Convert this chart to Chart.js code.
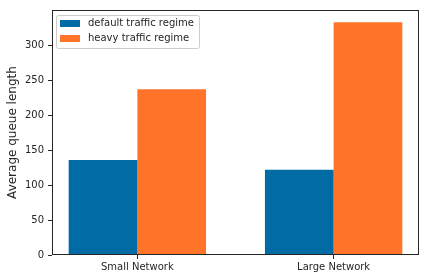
<!DOCTYPE html>
<html>
<head>
<meta charset="utf-8">
<script src="https://cdn.jsdelivr.net/npm/chart.js@4/dist/chart.umd.min.js"></script>
<style>
    html, body { margin: 0; padding: 0; background: #fff; }
    #wrap { width: 424px; height: 276px; }
</style>
</head>
<body>
<div id="wrap"><canvas id="queueChart" width="424" height="276"></canvas></div>
<script>
// Data
const categories = ['Small Network', 'Large Network'];
const seriesNames = ['default traffic regime', 'heavy traffic regime'];
const defaultValues = [136, 122];
const heavyValues = [237, 333];
const yTicks = [0, 50, 100, 150, 200, 250, 300];

const colors = ['#006BA4', '#FF7428'];
const FONT = 'DejaVu Sans';

// draws the full box around the plot (matplotlib style spines)
const frame = {
    id: 'frame',
    afterDatasetsDraw(chart) {
        const a = chart.chartArea, ctx = chart.ctx;
        ctx.save();
        ctx.strokeStyle = '#262626';
        ctx.lineWidth = 1;
        ctx.strokeRect(Math.round(a.left) + 0.5, Math.round(a.top) + 0.5,
            Math.round(a.right - a.left) - 1, Math.round(a.bottom - a.top) - 1);
        ctx.restore();
    }
};

// legend inside the axes, upper left
const innerLegend = {
    id: 'innerLegend',
    afterDraw(chart) {
        const a = chart.chartArea, ctx = chart.ctx;
        const x = a.left + 4.5, y = a.top + 5.5, w = 143, h = 33;
        ctx.save();
        ctx.fillStyle = 'rgba(255,255,255,0.8)';
        ctx.strokeStyle = '#cccccc';
        ctx.lineWidth = 1;
        ctx.beginPath();
        ctx.roundRect(x, y, w, h, 2);
        ctx.fill();
        ctx.stroke();
        ctx.font = '10px "' + FONT + '"';
        ctx.textBaseline = 'middle';
        chart.data.datasets.forEach((ds, i) => {
            const cy = y + 8 + i * 15;
            ctx.fillStyle = ds.backgroundColor;
            ctx.fillRect(x + 3.5, cy - 3.5, 20, 7);
            ctx.fillStyle = '#262626';
            ctx.fillText(ds.label, x + 31.5, cy);
        });
        ctx.restore();
    }
};

const ctx = document.getElementById('queueChart').getContext('2d');
new Chart(ctx, {
    type: 'bar',
    data: {
        datasets: [
            { label: seriesNames[0], data: defaultValues.map((v, i) => ({ x: i, y: v })), backgroundColor: colors[0] },
            { label: seriesNames[1], data: heavyValues.map((v, i) => ({ x: i, y: v })), backgroundColor: colors[1] }
        ]
    },
    options: {
        responsive: false,
        animation: false,
        devicePixelRatio: 1,
        layout: { padding: { top: 5, right: 5, left: 0, bottom: 0 } },
        datasets: { bar: { categoryPercentage: 0.7, barPercentage: 1.0, borderWidth: 0 } },
        plugins: { legend: { display: false }, tooltip: { enabled: false } },
        scales: {
            x: {
                type: 'linear',
                min: -0.435,
                max: 1.435,
                offset: false,
                afterBuildTicks: (s) => { s.ticks = categories.map((c, i) => ({ value: i })); },
                afterFit: (s) => { s.height = 21; },
                grid: { offset: false, drawOnChartArea: false, drawTicks: true, tickLength: 4, color: '#262626' },
                border: { display: false },
                ticks: {
                    autoSkip: false, maxRotation: 0, padding: 2,
                    color: '#262626', font: { family: FONT, size: 10 },
                    callback: (v) => categories[v]
                }
            },
            y: {
                min: 0,
                max: 350.5,
                afterBuildTicks: (s) => { s.ticks = yTicks.map(v => ({ value: v })); },
                afterFit: (s) => { s.width = 52; },
                grid: { drawOnChartArea: false, drawTicks: true, tickLength: 4, color: '#262626' },
                border: { display: false },
                ticks: { padding: 4, color: '#262626', font: { family: FONT, size: 10 } },
                title: {
                    display: true,
                    text: 'Average queue length',
                    color: '#262626',
                    font: { family: FONT, size: 12 },
                    padding: { top: 6, bottom: 0 }
                }
            }
        }
    },
    plugins: [frame, innerLegend]
});
</script>
</body>
</html>
